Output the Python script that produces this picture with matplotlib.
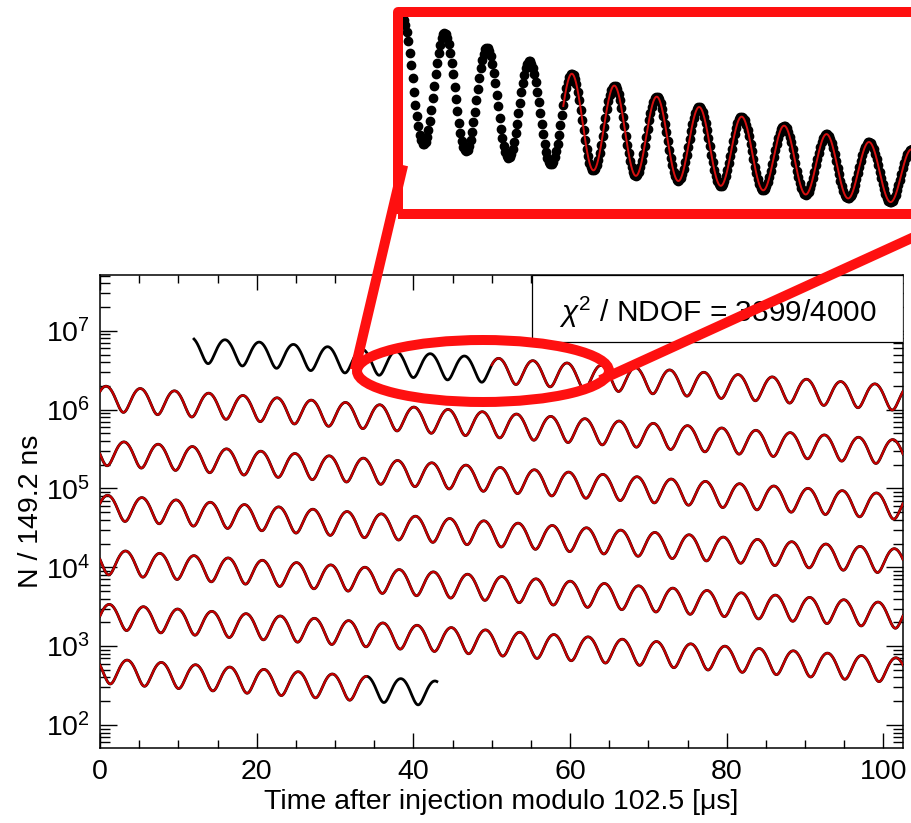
import numpy as np
import matplotlib
matplotlib.use('Agg')
import matplotlib.pyplot as plt
from matplotlib.patches import Rectangle, Ellipse
from matplotlib.lines import Line2D
from matplotlib.ticker import MultipleLocator, LogLocator, NullFormatter, FixedLocator

plt.rcParams['font.family'] = ['Liberation Sans', 'DejaVu Sans']
plt.rcParams['mathtext.fontset'] = 'custom'
plt.rcParams['mathtext.rm'] = 'Liberation Sans'
plt.rcParams['mathtext.it'] = 'Liberation Sans:italic'

# fit parameters
n0 = 7.3e6            # counts per bin at t = 0
tau = 64.4            # dilated muon lifetime [us]
asym = 0.35           # wiggle amplitude
period = 4.366        # g-2 period [us]
t_trough = 616.3      # one trough of the wiggle [us]
wrap = 102.5          # modulo [us]
bin_width = 0.1492    # [us]
n_strips = 7
data_range = [12.0, 658.0]
fit_range = [50.0, 649.0]
y_major = [1e2, 1e3, 1e4, 1e5, 1e6, 1e7]
chi2_label = r'$\chi^{2}$ / NDOF = 3899/4000'

# zoomed inset
inset_xlim = [33.0, 90.8]
inset_ylim = [1.0e6, 6.0e6]


def counts(t):
    return n0 * np.exp(-t / tau) * (1 - asym * np.cos(2 * np.pi * (t - t_trough) / period))


fs = 20.5
fig = plt.figure(figsize=(9.12, 8.23), dpi=100)
ax = fig.add_axes([100 / 912, 1 - 748 / 823, 803 / 912, 473 / 823])

xs = np.arange(0, wrap + 0.01, 0.02)
for k in range(n_strips):
    t = xs + k * wrap
    m = (t >= data_range[0]) & (t <= data_range[1])
    ax.plot(xs[m], counts(t[m]), color='black', lw=2.0, zorder=2)
    m = (t >= fit_range[0]) & (t <= fit_range[1])
    ax.plot(xs[m], counts(t[m]), color='#c40000', lw=1.6, zorder=3)

ax.set_yscale('log')
ax.set_xlim(0, wrap)
ax.set_ylim(51, 5.1e7)
ax.xaxis.set_major_locator(MultipleLocator(20))
ax.xaxis.set_minor_locator(MultipleLocator(5))
ax.yaxis.set_major_locator(FixedLocator(y_major))
ax.yaxis.set_minor_locator(LogLocator(base=10, subs=np.arange(2, 10)))
ax.yaxis.set_minor_formatter(NullFormatter())
ax.tick_params(which='both', direction='in', top=True, right=True, labelsize=fs, width=1.0)
ax.tick_params(axis='x', which='major', length=11, pad=8)
ax.tick_params(axis='x', which='minor', length=6)
ax.tick_params(axis='y', which='major', length=12, pad=7)
ax.tick_params(axis='y', which='minor', length=7)
for s in ax.spines.values():
    s.set_linewidth(1.1)

ax.set_xlabel('Time after injection modulo 102.5 [\u03bcs]', fontsize=fs)
ax.xaxis.set_label_coords(0.5, -0.0867)
ax.set_ylabel('N / 149.2 ns', fontsize=fs)
ax.yaxis.set_label_coords(-0.07, 0.5)

ax.add_patch(Rectangle((0.538, 0.858), 0.462, 0.142, transform=ax.transAxes,
                       facecolor='white', edgecolor='black', lw=0.9, zorder=4))
ax.text(0.7696, 0.9218, chi2_label, transform=ax.transAxes, fontsize=21.5,
        ha='center', va='center', zorder=5)

# zoomed inset
axi = fig.add_axes([398 / 912, 1 - 214 / 823, (960 - 398) / 912, (214 - 12) / 823])
tin = np.arange(inset_xlim[0], inset_xlim[1], bin_width)
axi.plot(tin, counts(tin), 'o', ms=6, color='black')
tf = np.linspace(fit_range[0], inset_xlim[1], 3000)
axi.plot(tf, counts(tf), color='#d81010', lw=1.4)
axi.set_xlim(inset_xlim)
axi.set_ylim(inset_ylim)
axi.set_xticks([])
axi.set_yticks([])
for s in axi.spines.values():
    s.set_visible(False)

red = '#fe1010'
fig.add_artist(Rectangle((398 / 912, 1 - 214 / 823), (960 - 398) / 912, (214 - 12) / 823,
                         transform=fig.transFigure, facecolor='none', edgecolor=red,
                         lw=7.2, joinstyle='round', zorder=6, clip_on=False))
fig.add_artist(Ellipse((483 / 912, 1 - 371 / 823), 252 / 912, 62 / 823,
                       transform=fig.transFigure, facecolor='none', edgecolor=red,
                       lw=7.2, zorder=6))
fig.add_artist(Line2D([402 / 912, 356 / 912], [1 - 170 / 823, 1 - 365 / 823],
                      transform=fig.transFigure, color=red, lw=7.2, zorder=6))
fig.add_artist(Line2D([605 / 912, 960 / 912], [1 - 378 / 823, 1 - 216 / 823],
                      transform=fig.transFigure, color=red, lw=7.2, zorder=6))

fig.savefig('out.png', dpi=100)
